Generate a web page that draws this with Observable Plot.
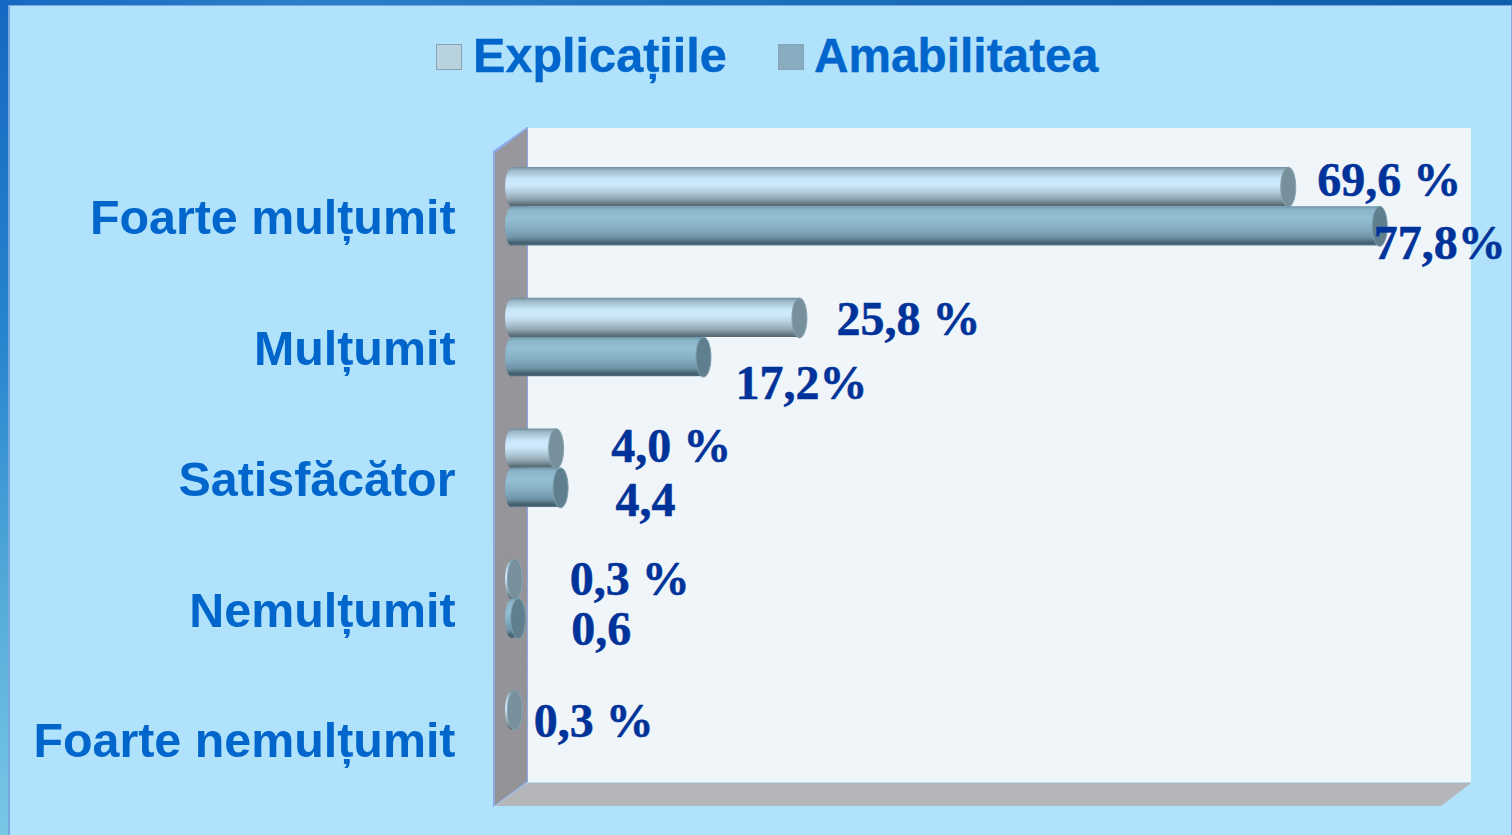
<!DOCTYPE html>
<html lang="ro">
<head>
<meta charset="utf-8">
<title>Explicațiile și amabilitatea</title>
<script src="https://cdn.jsdelivr.net/npm/d3@7"></script>
<script src="https://cdn.jsdelivr.net/npm/@observablehq/plot@0.6"></script>
<style>
  html, body { margin: 0; padding: 0; width: 1512px; height: 835px; overflow: hidden; }
  #stage { position: relative; width: 1512px; height: 835px; overflow: hidden;
    background: linear-gradient(180deg, #1768c2 0%, #2684ce 40%, #56abd9 72%, #78c8e6 100%); }
  #topstrip { position: absolute; left: 0; top: 0; width: 1512px; height: 6px;
    background: linear-gradient(90deg, #1768c2 0%, #2a80c8 20%, #1e6fbd 50%, #1262ae 80%, #0f5fad 100%); }
  #panel { position: absolute; left: 8px; top: 5px; width: 1504px; height: 830px; box-sizing: border-box;
    background: #b0e2fc; border-left: 2px solid #7ba6e4; border-top: 1px solid #7ba6e4; border-right: 1px solid #8fa6e2; }
  .wall { position: absolute; left: 0; top: 0; width: 1512px; height: 835px; }
  #back { background: #f0f5fa; clip-path: polygon(527px 128px, 1471px 128px, 1471px 782px, 527px 782px); }
  #leftedge { background: #8fa9e6; clip-path: polygon(527px 127px, 493px 151px, 493px 807px, 528px 782px, 528px 127px); }
  #left { background: linear-gradient(180deg, #98989e, #929297); clip-path: polygon(527px 129px, 495px 153px, 495px 805px, 527px 781px); }
  #floor { background: #b4b6ba; clip-path: polygon(527px 783px, 1471px 783px, 1441px 806px, 495px 806px); }
  #legend { position: absolute; left: 0; top: 0; width: 1512px; height: 110px; font: bold 48px "Liberation Sans", Arial, sans-serif; color: #0066cc; -webkit-text-stroke: 0.4px #0066cc; }
  #legend .sw { position: absolute; width: 24px; height: 24px; top: 44px; border: 1px solid #88a4b4; }
  #legend .tx { position: absolute; line-height: 1; white-space: nowrap; }
  #chart { position: absolute; left: 0; top: 0; }
  #chart svg { background: transparent; display: block; }
</style>
</head>
<body>
<div id="stage">
  <div id="topstrip"></div>
  <div id="panel"></div>
  <div class="wall" id="back"></div>
  <div class="wall" id="leftedge"></div>
  <div class="wall" id="left"></div>
  <div class="wall" id="floor"></div>
  <div id="legend">
    <div class="sw" style="left:436px;background:#b8d2e0"></div>
    <div class="tx" style="left:473px;top:31px;font-size:48.6px">Explicațiile</div>
    <div class="sw" style="left:778px;background:#88adc0"></div>
    <div class="tx" style="left:814px;top:32px;font-size:47.8px">Amabilitatea</div>
  </div>
  <div id="chart"></div>
</div>
<script>
// Data
const categories = ["Foarte mulțumit", "Mulțumit", "Satisfăcător", "Nemulțumit", "Foarte nemulțumit"];
const seriesNames = ["Explicațiile", "Amabilitatea"];
const explicatiile = [69.6, 25.8, 4.0, 0.3, 0.3];
const amabilitatea = [77.8, 17.2, 4.4, 0.6, null];
const explicatiileLabels = ["69,6 %", "25,8 %", "4,0 %", "0,3 %", "0,3 %"];
const amabilitateaLabels = ["77,8%", "17,2%", "4,4", "0,6", null];

// Hand placement of the value labels, as in the reference (px offsets from each bar's end)
const explicatiileNudge = [[29, -6.5], [37, 2], [55, -2], [55, 0], [19, 11]];
const amabilitateaNudge = [[-6, 17], [32, 27], [55, 13], [53, 11], null];

const rows = (name, values, labels, nudges) => categories
  .map((category, i) => ({category, series: name, value: values[i], label: labels[i], nudge: nudges[i]}))
  .filter(d => d.value != null);

const rowsA = rows(seriesNames[0], explicatiile, explicatiileLabels, explicatiileNudge);
const rowsB = rows(seriesNames[1], amabilitatea, amabilitateaLabels, amabilitateaNudge);

// Elliptical cylinder end for Plot.dot
const ellipse = (ratio) => ({
  draw(ctx, size) {
    const ry = Math.sqrt(size / Math.PI), rx = ry * ratio, k = 0.5523;
    ctx.moveTo(0, -ry);
    ctx.bezierCurveTo(k * rx, -ry, rx, -k * ry, rx, 0);
    ctx.bezierCurveTo(rx, k * ry, k * rx, ry, 0, ry);
    ctx.bezierCurveTo(-k * rx, ry, -rx, k * ry, -rx, 0);
    ctx.bezierCurveTo(-rx, -k * ry, -k * rx, -ry, 0, -ry);
    ctx.closePath();
  }
});

const cylinder = (data, grad, cap, capStroke) => [
  Plot.dot(data, {x: () => 0, y: "series", fy: "category", r: 19.5, symbol: ellipse(0.33), fill: grad, stroke: "none"}),
  Plot.barX(data, {x: "value", y: "series", fy: "category", fill: grad}),
  Plot.dot(data, {x: "value", y: "series", fy: "category", r: 20, symbol: ellipse(0.375), fill: cap, stroke: capStroke, strokeWidth: 1})
];

const valueLabels = (data) => data.map(d => Plot.text([d], {
  x: "value", y: "series", fy: "category", text: "label",
  textAnchor: "start", dx: d.nudge[0], dy: d.nudge[1],
  fontFamily: "'Liberation Serif', 'Times New Roman', serif", fontWeight: "bold", fontSize: 48, fill: "#003399",
  stroke: "#003399", strokeWidth: 0.5
}));

const plot = Plot.plot({
  width: 1512, height: 835,
  marginLeft: 511, marginRight: 52.4, marginTop: 167, marginBottom: 66.5,
  style: {background: "transparent", overflow: "visible"},
  x: {domain: [0, 85], axis: null},
  y: {type: "band", domain: seriesNames, padding: 0, round: false, axis: null},
  fy: {domain: categories, padding: 0.4, round: false, axis: null},
  marks: [
    Plot.axisFy({
      anchor: "left", label: null, tickSize: 0, tickPadding: 56, dy: 12,
      fontFamily: "'Liberation Sans', Arial, sans-serif", fontWeight: "bold", fontSize: 48.4, fill: "#0066cc",
      stroke: "#0066cc", strokeWidth: 0.4
    }),
    ...cylinder(rowsA, "url(#gradA)", "#78909c", "#86a4b2"),
    ...cylinder(rowsB, "url(#gradB)", "#5f7f8e", "#7ba0b2"),
    ...valueLabels(rowsA),
    ...valueLabels(rowsB)
  ]
});

// Cylinder shading
const defs = d3.select(plot).insert("defs", ":first-child");
const gradient = (id, stops) => {
  const g = defs.append("linearGradient").attr("id", id).attr("x1", 0).attr("y1", 0).attr("x2", 0).attr("y2", 1);
  stops.forEach(([o, c]) => g.append("stop").attr("offset", o).attr("stop-color", c));
};
gradient("gradA", [[0, "#6f8c9c"], [0.08, "#9cb8c8"], [0.3, "#c9e7f9"], [0.45, "#cdeafc"], [0.62, "#b6cfdf"], [0.82, "#8fa3ae"], [0.95, "#5f717c"], [1, "#55666f"]]);
gradient("gradB", [[0, "#6c94a8"], [0.08, "#8bb4c8"], [0.3, "#93bed3"], [0.58, "#84adc2"], [0.8, "#6f93a6"], [0.94, "#425c6a"], [1, "#527485"]]);

document.getElementById("chart").append(plot);
</script>
</body>
</html>
